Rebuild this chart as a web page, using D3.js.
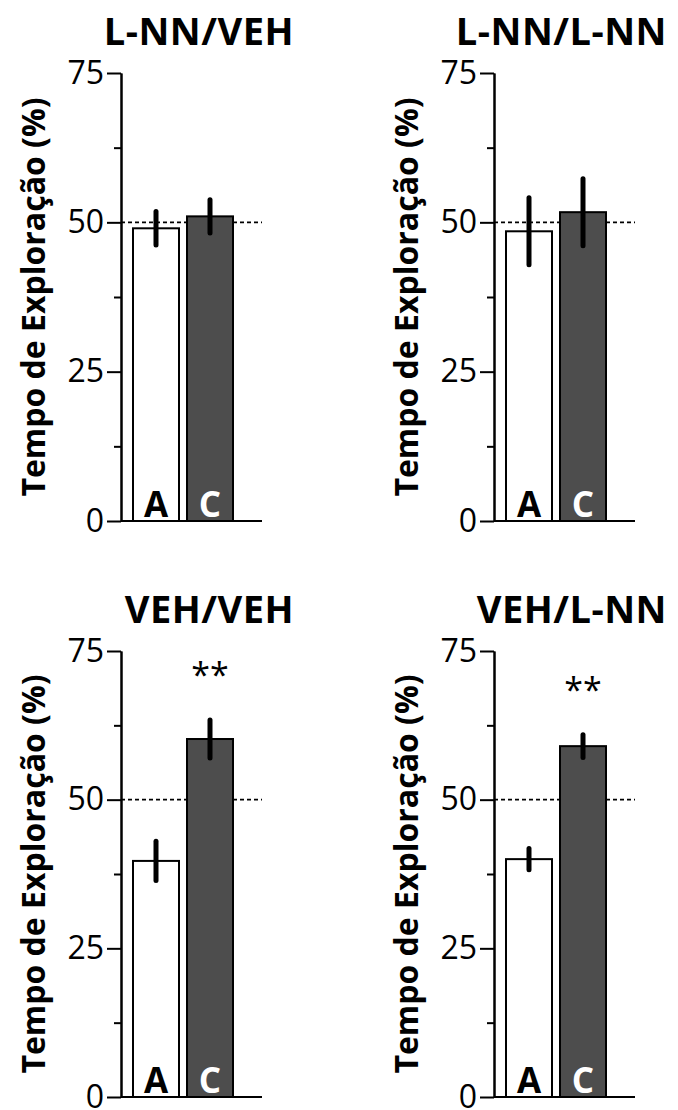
<!DOCTYPE html>
<html>
<head>
<meta charset="utf-8">
<script src="https://cdn.jsdelivr.net/npm/d3@7"></script>
<style>
  body { margin: 0; background: #fff; }
  svg { display: block; font-family: 'Open Sans', sans-serif; }
</style>
</head>
<body>
<svg id="chart" width="678" height="1110"></svg>
<script>
const panelTitles = ['L-NN/VEH', 'L-NN/L-NN', 'VEH/VEH', 'VEH/L-NN'];
const groups = ['A', 'C'];
const meanA = [49.0, 48.5, 39.7, 40.0];
const meanC = [51.0, 51.7, 60.2, 59.0];
const semA = [2.8, 5.6, 3.3, 1.8];
const semC = [2.8, 5.6, 3.2, 1.9];
const stars = ['', '', '**', '**'];
const majorTicks = [0, 25, 50, 75];
const minorTicks = [12.5, 37.5, 62.5];
const chanceLevel = 50;
const yLabel = 'Tempo de Exploração (%)';

const svg = d3.select('#chart');
const fills = {A: '#ffffff', C: '#4d4d4d'};
const letterFill = {A: '#000000', C: '#ffffff'};

// panel placement: column offset and row y-range
const colX = [121, 494];
const rowY = [[521, 73], [1097, 651]];
const plotW = 141;

panelTitles.forEach((title, i) => {
  const axX = colX[i % 2];
  const [y0, y75] = rowY[Math.floor(i / 2)];
  const g = svg.append('g');

  const y = d3.scaleLinear().domain([0, 75]).range([y0, y75]);
  const x = d3.scaleBand().domain(groups)
    .range([axX + 12, axX + 112])
    .paddingInner(8 / 54);

  // Title (right-aligned)
  g.append('text')
    .attr('x', axX + plotW + 32)
    .attr('y', y75 - 28)
    .attr('text-anchor', 'end')
    .attr('font-size', '38px')
    .attr('font-weight', 700)
    .attr('letter-spacing', '0.5px')
    .text(title);

  // Y label
  g.append('text')
    .attr('transform', `translate(${axX - 76},${(y0 + y75) / 2}) rotate(-90)`)
    .attr('text-anchor', 'middle')
    .attr('font-size', '32px')
    .attr('font-weight', 700)
    .text(yLabel);

  // Chance line
  g.append('line')
    .attr('x1', axX).attr('x2', axX + plotW)
    .attr('y1', y(chanceLevel)).attr('y2', y(chanceLevel))
    .attr('stroke', '#000')
    .attr('stroke-width', 1.6)
    .attr('stroke-dasharray', '4,3');

  const vals = [meanA[i], meanC[i]];
  const errs = [semA[i], semC[i]];

  // Bars
  g.selectAll('rect.bar')
    .data(groups)
    .enter().append('rect')
    .attr('class', 'bar')
    .attr('x', d => x(d))
    .attr('width', x.bandwidth())
    .attr('y', (d, j) => y(vals[j]))
    .attr('height', (d, j) => y(0) - y(vals[j]))
    .attr('fill', d => fills[d])
    .attr('stroke', '#000')
    .attr('stroke-width', 2);

  // Error bars
  g.selectAll('line.err')
    .data(groups)
    .enter().append('line')
    .attr('class', 'err')
    .attr('x1', d => x(d) + x.bandwidth() / 2)
    .attr('x2', d => x(d) + x.bandwidth() / 2)
    .attr('y1', (d, j) => y(vals[j] + errs[j]))
    .attr('y2', (d, j) => y(vals[j] - errs[j]))
    .attr('stroke', '#000')
    .attr('stroke-width', 5)
    .attr('stroke-linecap', 'round');

  // Group letters
  g.selectAll('text.grp')
    .data(groups)
    .enter().append('text')
    .attr('class', 'grp')
    .attr('x', d => x(d) + x.bandwidth() / 2)
    .attr('y', y(0) - 4)
    .attr('text-anchor', 'middle')
    .attr('font-size', '35px')
    .attr('font-weight', 700)
    .attr('fill', d => letterFill[d])
    .text(d => d);

  // Significance
  if (stars[i]) {
    g.append('text')
      .attr('x', x('C') + x.bandwidth() / 2)
      .attr('y', y(meanC[i] + semC[i]) - 33)
      .attr('text-anchor', 'middle')
      .attr('font-size', '34px')
      .text(stars[i]);
  }

  // Y axis: major and minor ticks
  g.append('g')
    .attr('transform', `translate(${axX},0)`)
    .call(d3.axisLeft(y).tickValues(minorTicks).tickSize(7).tickSizeOuter(0).tickFormat(''))
    .call(a => a.selectAll('path, line').attr('stroke', '#000').attr('stroke-width', 2));

  g.append('g')
    .attr('transform', `translate(${axX},0)`)
    .call(d3.axisLeft(y).tickValues(majorTicks).tickSize(14).tickPadding(3).tickSizeOuter(0))
    .call(a => a.selectAll('path, line').attr('stroke', '#000').attr('stroke-width', 2))
    .call(a => a.selectAll('text')
      .attr('font-size', '32px')
      .attr('font-family', "'Open Sans', sans-serif")
      .attr('fill', '#000'));

  // X baseline
  g.append('line')
    .attr('x1', axX).attr('x2', axX + plotW)
    .attr('y1', y(0)).attr('y2', y(0))
    .attr('stroke', '#000')
    .attr('stroke-width', 2);
});
</script>
</body>
</html>
